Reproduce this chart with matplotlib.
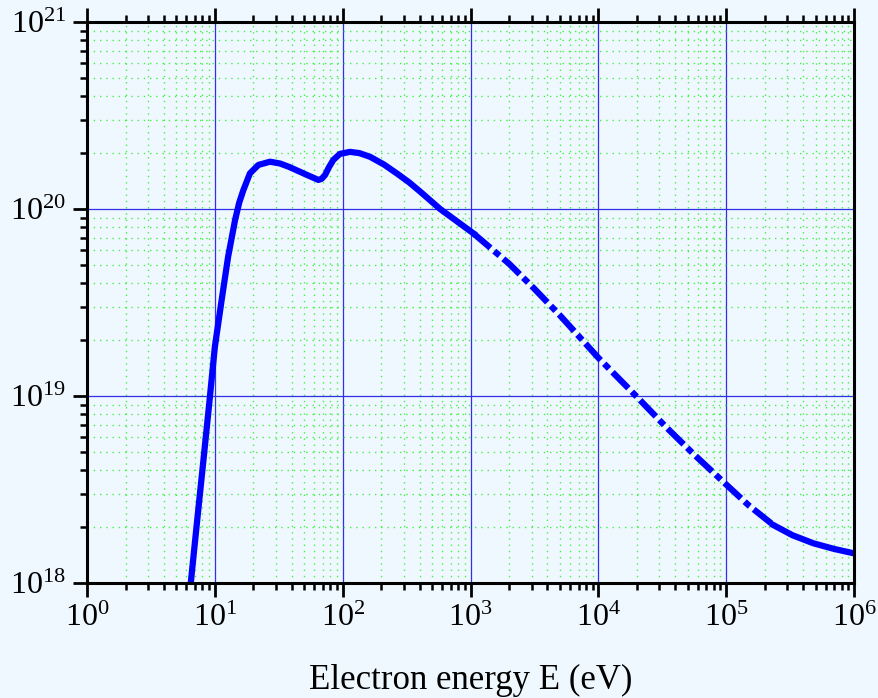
import numpy as np
import matplotlib
matplotlib.use('Agg')
import matplotlib.pyplot as plt

plt.rcParams['font.family'] = 'Liberation Serif'
plt.rcParams['mathtext.fontset'] = 'custom'
plt.rcParams['mathtext.rm'] = 'Liberation Serif'
plt.rcParams['mathtext.it'] = 'Liberation Serif:italic'

# Электронная энергия (эВ) и значения кривой
energy = [6.2, 6.48, 7.21, 8.13, 9.05, 10.0, 11.3, 12.7, 14.4, 15.5, 16.7, 18.8,
          21.9, 27.0, 32.4, 38, 46.4, 55, 64.5, 68.5, 72.8, 78, 84.5, 95,
          114, 135, 164, 210, 265, 330, 403, 578, 1052, 2000, 3090, 5000,
          10000, 20000, 34000, 55400, 1.01e5, 1.5e5, 2.34e5, 3.3e5, 4.81e5,
          7e5, 1e6]
values = [0.88e18, 1.0e18, 2.04e18, 4.5e18, 9.2e18, 1.83e19, 3.26e19, 5.56e19,
          8.74e19, 1.08e20, 1.26e20, 1.55e20,
          1.72e20, 1.79e20, 1.75e20, 1.68e20, 1.58e20, 1.50e20, 1.43e20, 1.45e20,
          1.52e20, 1.67e20, 1.83e20, 1.97e20,
          2.02e20, 1.99e20, 1.90e20, 1.73e20, 1.55e20, 1.39e20, 1.24e20, 1.0e20,
          7.41e19, 5.1e19, 3.8e19, 2.7e19,
          1.6e19, 9.9e18, 6.8e18, 4.9e18, 3.34e18, 2.6e18, 2.04e18, 1.8e18,
          1.63e18, 1.52e18, 1.44e18]

E = np.array(energy)
n = np.array(values)

solid1 = E <= 1052
dashed = (E >= 1052) & (E <= 2.34e5)
solid2 = E >= 2.34e5

bg = '#f0f8ff'
fig = plt.figure(figsize=(8.79, 6.98), dpi=100, facecolor=bg)
ax = fig.add_axes([0.099, 0.1648, 0.8726, 0.8037], facecolor=bg)

ax.set_xscale('log')
ax.set_yscale('log')
ax.set_xlim(1, 1e6)
ax.set_ylim(1e18, 1e21)

# сетка
ax.grid(True, which='minor', color='#44f044', linestyle=(0, (1, 3.5)), linewidth=1.0)
ax.grid(True, which='major', color='#3030e8', linestyle='-', linewidth=0.9)

lw = 4.5
ax.plot(E[solid1], n[solid1], color='#0000ff', lw=lw, solid_joinstyle='round')
ax.plot(E[dashed], n[dashed], color='#0000ff', lw=lw,
        linestyle=(0, (3.6, 0.8, 1.1, 0.8)), dash_capstyle='butt')
ax.plot(E[solid2], n[solid2], color='#0000ff', lw=lw, solid_joinstyle='round')

ax.set_xticks([10.0 ** k for k in range(0, 7)])
ax.set_xticklabels([r'$10^{%d}$' % k for k in range(0, 7)])
ax.set_yticks([10.0 ** k for k in range(18, 22)])
ax.set_yticklabels([r'$10^{%d}$' % k for k in range(18, 22)])

for s in ax.spines.values():
    s.set_linewidth(2.2)
    s.set_color('black')

ax.tick_params(which='major', direction='out', length=10, width=2,
               labelsize=23, top=True, right=False, pad=5)
ax.tick_params(which='minor', direction='out', length=5, width=1.8,
               top=True, right=False)
ax.tick_params(axis='x', which='both', labeltop=False)

ax.set_xlabel('Electron energy E (eV)', fontsize=25, labelpad=22)

fig.savefig('out.png', dpi=100, facecolor=bg)
